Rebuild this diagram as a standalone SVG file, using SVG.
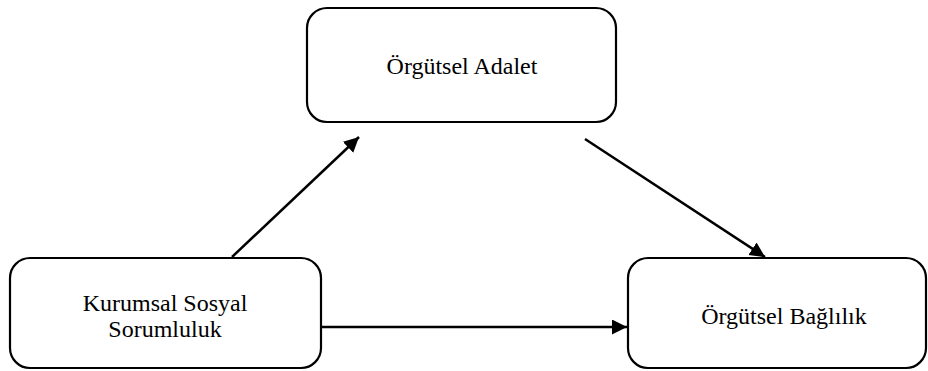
<svg xmlns="http://www.w3.org/2000/svg" width="928" height="371" viewBox="0 0 928 371">
<style>
.box{fill:#fff;stroke:#000;stroke-width:2.2}
.lbl{font-family:"Liberation Serif","Times New Roman",serif;font-size:24px;fill:#000;text-anchor:middle}
.conn{stroke:#000;stroke-width:2.5;fill:none}
</style>
<defs>
<marker id="ah" markerUnits="userSpaceOnUse" markerWidth="16" markerHeight="16" refX="15" refY="7.5" orient="auto">
<path d="M0,0 L15,7.5 L0,15 z" fill="#000"/>
</marker>
</defs>
<g id="node-adalet">
<rect class="box" x="307" y="8" width="309" height="114" rx="20"/>
<text class="lbl" x="462" y="74">Örgütsel Adalet</text>
</g>
<g id="node-kss">
<rect class="box" x="10" y="258" width="311" height="110" rx="20"/>
<text class="lbl" x="165" y="311">Kurumsal Sosyal</text>
<text class="lbl" x="165" y="337">Sorumluluk</text>
</g>
<g id="node-baglilik">
<rect class="box" x="628" y="258" width="298" height="110" rx="20"/>
<text class="lbl" x="784" y="324">Örgütsel Bağlılık</text>
</g>
<g id="connectors">
<line class="conn" x1="232" y1="257" x2="359" y2="137" marker-end="url(#ah)"/>
<line class="conn" x1="585" y1="139" x2="765" y2="257" marker-end="url(#ah)"/>
<line class="conn" x1="321" y1="327" x2="627" y2="327" marker-end="url(#ah)"/>
</g>
</svg>
